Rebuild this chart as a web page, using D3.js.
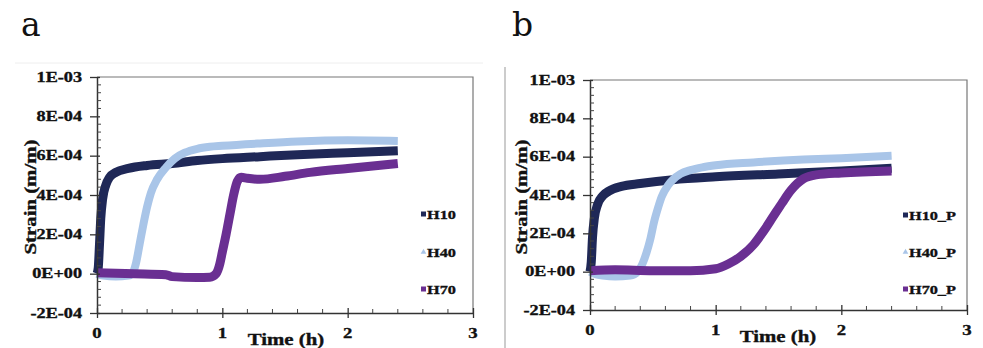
<!DOCTYPE html>
<html><head><meta charset="utf-8">
<script src="https://cdn.jsdelivr.net/npm/d3@7"></script>
<style>
html,body{margin:0;padding:0;background:#fff;}
svg{display:block;}
</style></head>
<body>
<svg id="chart" width="983" height="348"></svg>
<script>
// ---- Data (time in h, strain in m/m) ----
const yTickValues = [-2e-4, 0, 2e-4, 4e-4, 6e-4, 8e-4, 1e-3];
const yTickLabels = ["-2E-04", "0E+00", "2E-04", "4E-04", "6E-04", "8E-04", "1E-03"];
const xTickValues = [0, 1, 2, 3];
const xTickLabels = ["0", "1", "2", "3"];

const namesA = ["H10", "H40", "H70"];
const namesB = ["H10_P", "H40_P", "H70_P"];
const seriesColors = ["#1f2857", "#a9c5e8", "#6a2f92"];

const a_H10 = [[0,0],[0.01,0.3e-4],[0.02,1.5e-4],[0.03,2.8e-4],[0.045,3.8e-4],[0.07,4.5e-4],[0.1,4.9e-4],[0.15,5.15e-4],[0.25,5.35e-4],[0.4,5.5e-4],[0.6,5.6e-4],[0.8,5.75e-4],[1.0,5.85e-4],[1.3,5.95e-4],[1.6,6.05e-4],[2.0,6.15e-4],[2.4,6.25e-4]];
const a_H40 = [[0,0],[0.05,-0.1e-4],[0.15,-0.15e-4],[0.25,-0.1e-4],[0.28,0],[0.31,0.5e-4],[0.34,1.5e-4],[0.37,2.5e-4],[0.4,3.4e-4],[0.43,4.1e-4],[0.48,4.8e-4],[0.55,5.4e-4],[0.62,5.85e-4],[0.7,6.15e-4],[0.8,6.35e-4],[0.9,6.45e-4],[1.0,6.5e-4],[1.3,6.62e-4],[1.6,6.72e-4],[2.0,6.78e-4],[2.4,6.75e-4]];
const a_H70 = [[0,0.05e-4],[0.3,0],[0.55,-0.05e-4],[0.6,-0.15e-4],[0.8,-0.2e-4],[0.9,-0.18e-4],[0.95,0],[0.98,0.5e-4],[1.0,1.1e-4],[1.03,2.0e-4],[1.06,3.0e-4],[1.09,4.0e-4],[1.12,4.7e-4],[1.15,4.9e-4],[1.2,4.85e-4],[1.3,4.8e-4],[1.5,4.95e-4],[1.7,5.15e-4],[2.0,5.35e-4],[2.4,5.6e-4]];

const b_H10 = [[0,0],[0.01,0.5e-4],[0.02,1.8e-4],[0.035,2.8e-4],[0.06,3.5e-4],[0.1,3.95e-4],[0.15,4.2e-4],[0.25,4.45e-4],[0.4,4.6e-4],[0.66,4.8e-4],[1.0,4.95e-4],[1.5,5.1e-4],[2.0,5.25e-4],[2.4,5.4e-4]];
const b_H40 = [[0,0],[0.05,-0.15e-4],[0.1,-0.2e-4],[0.2,-0.25e-4],[0.32,-0.2e-4],[0.38,0],[0.42,0.45e-4],[0.45,1.0e-4],[0.48,1.7e-4],[0.51,2.6e-4],[0.54,3.3e-4],[0.57,3.9e-4],[0.62,4.5e-4],[0.66,4.8e-4],[0.72,5.1e-4],[0.8,5.3e-4],[0.9,5.45e-4],[1.0,5.55e-4],[1.3,5.7e-4],[1.7,5.85e-4],[2.0,5.92e-4],[2.4,6.05e-4]];
const b_H70 = [[0,0.05e-4],[0.2,0.1e-4],[0.5,0.05e-4],[0.8,0.05e-4],[1.0,0.15e-4],[1.1,0.4e-4],[1.2,0.8e-4],[1.3,1.4e-4],[1.38,2.1e-4],[1.46,2.9e-4],[1.53,3.6e-4],[1.6,4.25e-4],[1.7,4.85e-4],[1.8,5.05e-4],[2.0,5.15e-4],[2.4,5.25e-4]];

const seriesA = [a_H10, a_H40, a_H70];
const seriesB = [b_H10, b_H40, b_H70];

// ---- Drawing ----
const svg = d3.select("#chart");
const FONT = "Liberation Serif, Times New Roman, serif";

function addText(g, x, y, str, o) {
  o = o || {};
  const t = g.append("text")
    .attr("transform", `translate(${x},${y}) rotate(${o.rot||0}) scale(${o.sx||1},1)`)
    .attr("font-family", FONT)
    .attr("font-weight", "bold")
    .attr("font-size", o.size || 13)
    .attr("text-anchor", o.anchor || "middle")
    .attr("fill", "#111")
    .attr("stroke", "#111")
    .attr("stroke-width", 0.35)
    .text(str);
  if (o.baseline) t.attr("dominant-baseline", o.baseline);
  return t;
}

function drawPanel(cfg) {
  const g = svg.append("g");
  const x = d3.scaleLinear().domain([0, 3]).range([cfg.left, cfg.right]);
  const y = d3.scaleLinear().domain([-2e-4, 1e-3]).range([cfg.bottom, cfg.top]);

  // frame (top & right)
  g.append("path")
    .attr("d", `M${cfg.left},${cfg.top}H${cfg.right}V${cfg.bottom}`)
    .attr("fill", "none").attr("stroke", "#777").attr("stroke-width", 1.2);

  // series
  const line = d3.line().x(d => x(d[0])).y(d => y(d[1])).curve(d3.curveMonotoneX);
  cfg.series.forEach((s, i) => {
    g.append("path").datum(s)
      .attr("d", line)
      .attr("fill", "none")
      .attr("stroke", seriesColors[i])
      .attr("stroke-width", i === 1 ? 8 : 9)
      .attr("stroke-linejoin", "round")
      .attr("stroke-linecap", "butt");
  });

  // y axis
  const yAxis = d3.axisLeft(y).tickValues(yTickValues)
    .tickFormat(() => "").tickSize(7).tickSizeOuter(0);
  const ya = g.append("g").attr("transform", `translate(${cfg.left},0)`).call(yAxis);
  ya.select(".domain").attr("stroke", "#333").attr("stroke-width", 1.5);
  ya.selectAll(".tick line").attr("stroke", "#333").attr("stroke-width", 1.3).attr("x2", -7).attr("x1", 3);
  // y minor ticks
  const yMinor = d3.range(-2e-4, 1e-3 + 1e-9, 4e-5).filter(v => Math.abs(Math.round(v / 2e-4) * 2e-4 - v) > 1e-9);
  g.selectAll(null).data(yMinor).enter().append("line")
    .attr("x1", cfg.left).attr("x2", cfg.left + 4)
    .attr("y1", d => y(d)).attr("y2", d => y(d))
    .attr("stroke", "#444").attr("stroke-width", 1);
  yTickValues.forEach((v, i) => {
    addText(g, cfg.left - 15, y(v) + 4.8, yTickLabels[i], {anchor: "end", size: 14, sx: 1.3});
  });

  // x axis
  const xAxis = d3.axisBottom(x).tickValues(xTickValues).tickFormat(() => "").tickSize(5).tickSizeOuter(0);
  const xa = g.append("g").attr("transform", `translate(0,${cfg.bottom})`).call(xAxis);
  xa.select(".domain").attr("stroke", "#333").attr("stroke-width", 1.5);
  xa.selectAll(".tick line").attr("stroke", "#333").attr("stroke-width", 1.3).attr("y1", -5).attr("y2", 5);
  const xMinor = d3.range(0, 3.001, 0.2).filter(v => Math.abs(Math.round(v) - v) > 1e-6);
  g.selectAll(null).data(xMinor).enter().append("line")
    .attr("x1", d => x(d)).attr("x2", d => x(d))
    .attr("y1", cfg.bottom).attr("y2", cfg.bottom - 4)
    .attr("stroke", "#444").attr("stroke-width", 1);
  xTickValues.forEach((v, i) => {
    addText(g, x(v), cfg.xLabelY, xTickLabels[i], {size: 15, sx: 1.25});
  });

  // axis titles
  addText(g, cfg.timeX, cfg.timeY, "Time (h)", {size: 16, sx: 1.3});
  addText(g, cfg.strainX, (cfg.top + cfg.bottom) / 2 + 2, "Strain (m/m)", {size: 16, sx: 1.3, rot: -90, baseline: "central"});

  // legend
  cfg.names.forEach((n, i) => {
    const ly = cfg.legendY[i];
    if (i === 1) {
      g.append("path")
        .attr("d", d3.symbol().type(d3.symbolTriangle).size(14)())
        .attr("transform", `translate(${cfg.legendX + 2.5},${ly})`)
        .attr("fill", seriesColors[i]);
    } else {
      g.append("rect").attr("x", cfg.legendX).attr("y", ly - 2.5).attr("width", 5).attr("height", 5)
        .attr("fill", seriesColors[i]);
    }
    addText(g, cfg.legendX + 6, ly + 4.5, n, {anchor: "start", size: 13, sx: 1.25});
  });

  // panel letter
  g.append("text").attr("x", cfg.letterX).attr("y", 36)
    .attr("font-family", "DejaVu Serif, serif").attr("font-size", 33).attr("fill", "#111")
    .text(cfg.letter);
}

drawPanel({
  letter: "a", letterX: 21,
  left: 97, right: 473, top: 77, bottom: 313,
  series: seriesA, names: namesA,
  xLabelY: 338, timeX: 286, timeY: 345, strainX: 30,
  legendX: 421, legendY: [214, 252, 289]
});
drawPanel({
  letter: "b", letterX: 512,
  left: 590, right: 967, top: 80, bottom: 310,
  series: seriesB, names: namesB,
  xLabelY: 335, timeX: 778, timeY: 342, strainX: 521,
  legendX: 903, legendY: [215, 252, 289]
});

// decorative separators
svg.append("line").attr("x1", 15).attr("x2", 483).attr("y1", 63).attr("y2", 63)
  .attr("stroke", "#eee").attr("stroke-width", 1);
svg.append("line").attr("x1", 505).attr("x2", 505).attr("y1", 67).attr("y2", 348)
  .attr("stroke", "#999").attr("stroke-width", 1);
</script>
</body></html>
